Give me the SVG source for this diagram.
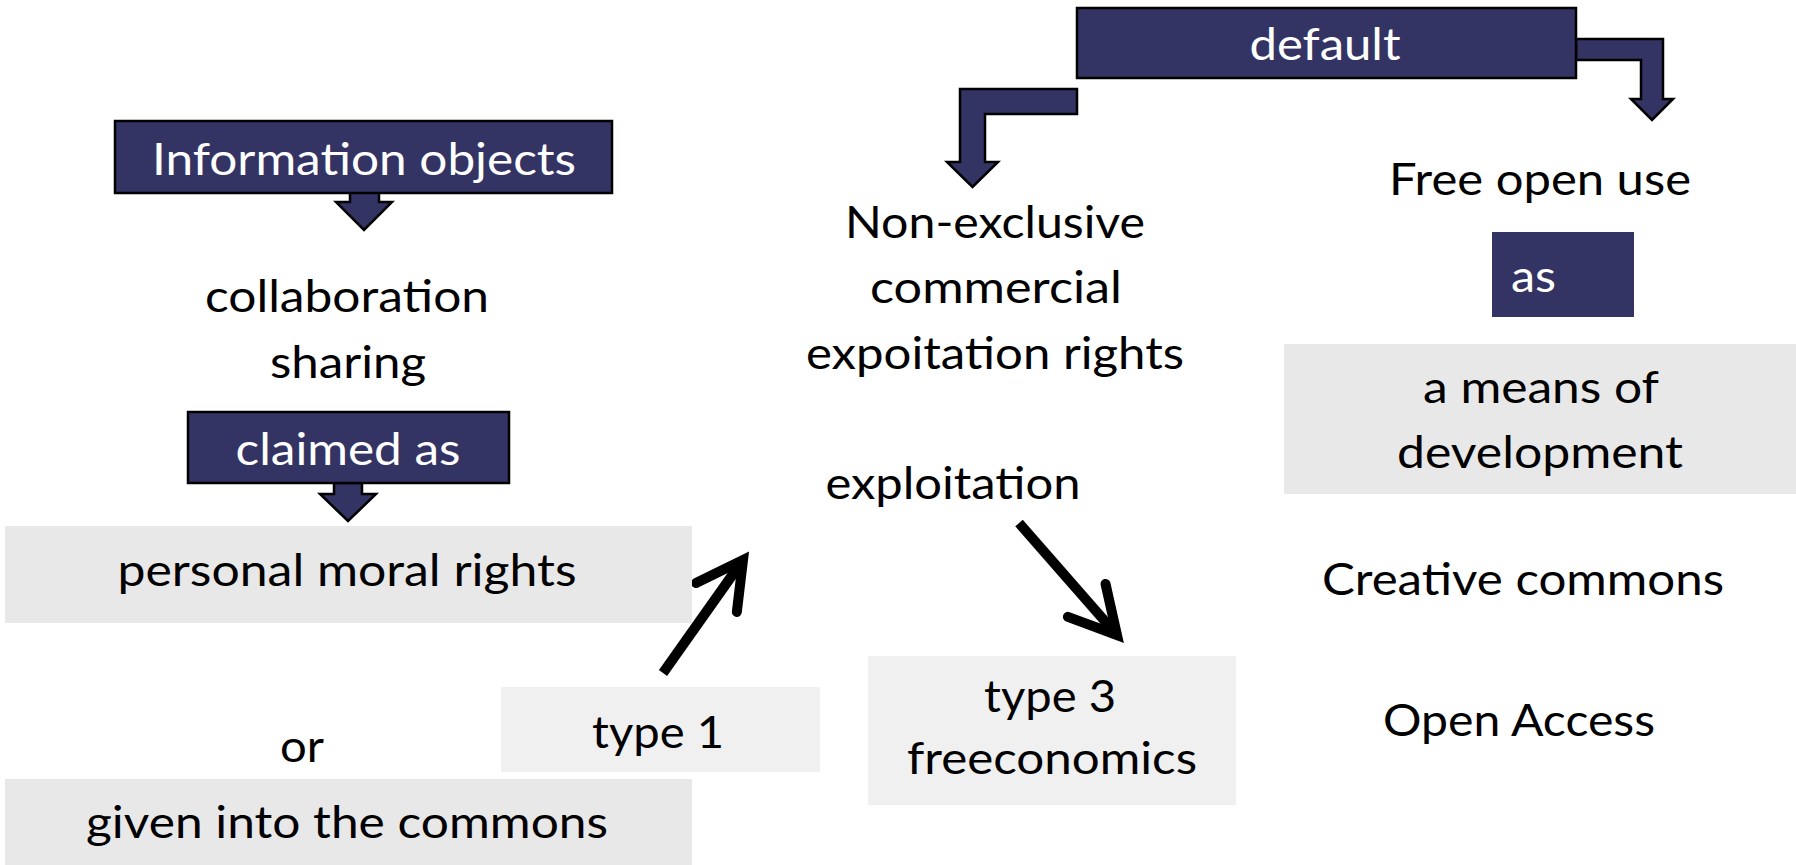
<svg xmlns="http://www.w3.org/2000/svg" width="1796" height="865" viewBox="0 0 1796 865">
<style>
text{font-family:Lato,"Liberation Sans",sans-serif;font-size:45px;fill:#000;text-anchor:middle}
.w{fill:#fff}
.navy{fill:#343464;stroke:#000;stroke-width:2.5}
.navyn{fill:#343464}
.g1{fill:#e8e8e8}
.g2{fill:#f0f0f0}
.blk{fill:#343464;stroke:#000;stroke-width:2.5;stroke-linejoin:miter}
.ln{stroke:#000;stroke-width:10;fill:none}
</style>
<defs>
<marker id="open" markerUnits="userSpaceOnUse" orient="auto" overflow="visible" markerWidth="10" markerHeight="10" refX="0" refY="0">
<path d="M-46,-25 L0,0 L-46,25" fill="none" stroke="#000" stroke-width="10" stroke-linecap="round" stroke-linejoin="miter"/>
</marker>
</defs>
<rect width="1796" height="865" fill="#fff"/>
<g id="connectors">
<polygon class="blk" points="350,192 379,192 379,202 392,202 364,230 336,202 350,202"/>
<polygon class="blk" points="334,483 362,483 362,494 376,494 348,521 320,494 334,494"/>
<polygon class="blk" points="1077,89 1077,114 985,114 985,162 998,162 972.5,187 947,162 960,162 960,89"/>
<polygon class="blk" points="1576,39 1663,39 1663,99 1673,99 1652,120 1631,99 1641,99 1641,60 1576,60"/>
<path class="ln" d="M663,673 L743,560" marker-end="url(#open)"/>
<path class="ln" d="M1019,523 L1117,635" marker-end="url(#open)"/>
</g>
<g id="n-default"><rect class="navy" x="1077" y="8" width="499" height="70"/><text class="w" x="1325" y="60" textLength="151" lengthAdjust="spacingAndGlyphs">default</text></g>
<g id="n-info"><rect class="navy" x="115" y="121" width="497" height="72"/><text class="w" x="364" y="175" textLength="424" lengthAdjust="spacingAndGlyphs">Information objects</text></g>
<g id="n-collab"><text x="347" y="312" textLength="284" lengthAdjust="spacingAndGlyphs">collaboration</text><text x="348" y="378" textLength="156" lengthAdjust="spacingAndGlyphs">sharing</text></g>
<g id="n-claimed"><rect class="navy" x="188" y="412" width="321" height="71"/><text class="w" x="348" y="465" textLength="225" lengthAdjust="spacingAndGlyphs">claimed as</text></g>
<g id="n-personal"><rect class="g1" x="5" y="526" width="687" height="97"/><text x="347" y="586" textLength="459" lengthAdjust="spacingAndGlyphs">personal moral rights</text></g>
<g id="n-or"><text x="302" y="762" textLength="44" lengthAdjust="spacingAndGlyphs">or</text></g>
<g id="n-given"><rect class="g1" x="5" y="779" width="687" height="86"/><text x="347" y="838" textLength="522" lengthAdjust="spacingAndGlyphs">given into the commons</text></g>
<g id="n-type1"><rect class="g2" x="501" y="687" width="319" height="85"/><text x="658" y="748" textLength="132" lengthAdjust="spacingAndGlyphs">type 1</text></g>
<g id="n-nonexcl"><text x="995" y="238" textLength="300" lengthAdjust="spacingAndGlyphs">Non-exclusive</text><text x="996" y="303" textLength="252" lengthAdjust="spacingAndGlyphs">commercial</text><text x="995" y="369" textLength="378" lengthAdjust="spacingAndGlyphs">expoitation rights</text></g>
<g id="n-exploit"><text x="953" y="499" textLength="255" lengthAdjust="spacingAndGlyphs">exploitation</text></g>
<g id="n-type3"><rect class="g2" x="868" y="656" width="368" height="149"/><text x="1050" y="712" textLength="132" lengthAdjust="spacingAndGlyphs">type 3</text><text x="1052" y="774" textLength="290" lengthAdjust="spacingAndGlyphs">freeconomics</text></g>
<g id="n-free"><text x="1540" y="195" textLength="302" lengthAdjust="spacingAndGlyphs">Free open use</text></g>
<g id="n-as"><rect class="navyn" x="1492" y="232" width="142" height="85"/><text class="w" x="1511" y="292" style="text-anchor:start" textLength="45" lengthAdjust="spacingAndGlyphs">as</text></g>
<g id="n-means"><rect class="g1" x="1284" y="344" width="512" height="150"/><text x="1541" y="403" textLength="236" lengthAdjust="spacingAndGlyphs">a means of</text><text x="1540" y="468" textLength="286" lengthAdjust="spacingAndGlyphs">development</text></g>
<g id="n-cc"><text x="1523" y="595" textLength="402" lengthAdjust="spacingAndGlyphs">Creative commons</text></g>
<g id="n-oa"><text x="1519" y="736" textLength="272" lengthAdjust="spacingAndGlyphs">Open Access</text></g>
</svg>
